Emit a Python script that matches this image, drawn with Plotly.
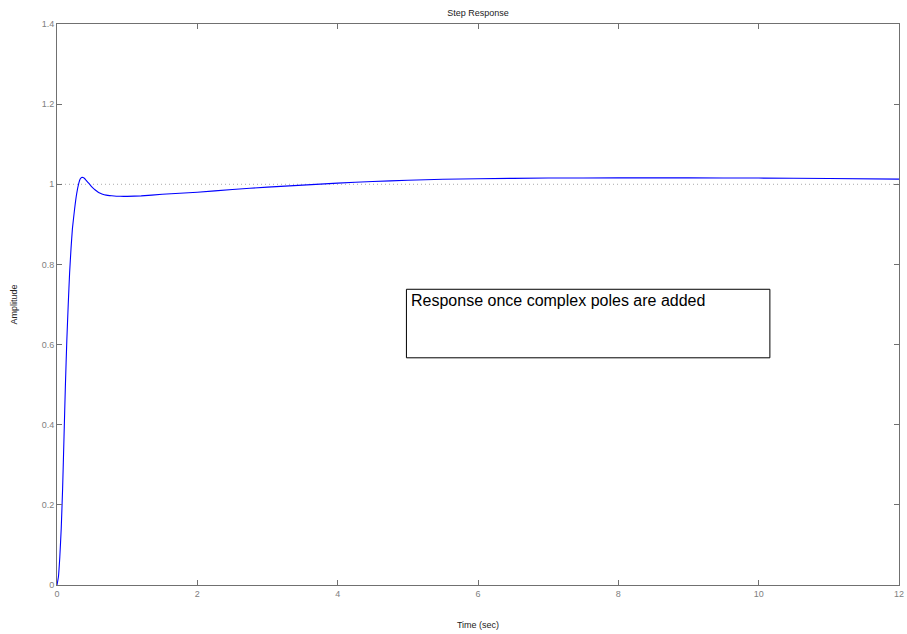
import plotly.graph_objects as go

# Step response samples
time_s = [0, 0.02, 0.04, 0.06, 0.08, 0.10, 0.12, 0.14, 0.16, 0.18, 0.20, 0.22, 0.25,
          0.28, 0.31, 0.33, 0.35, 0.37, 0.39, 0.41, 0.44, 0.47, 0.50, 0.53, 0.56, 0.60,
          0.64, 0.70, 0.78, 0.90, 1.0, 1.2, 1.5, 2.0, 2.5, 3.0, 3.5, 4.0, 4.5, 5.0, 5.5,
          6.0, 7.0, 8.0, 9.0, 10.0, 11.0, 12.0]
amplitude = [0, 0.02, 0.07, 0.14, 0.24, 0.37, 0.50, 0.61, 0.70, 0.78, 0.84, 0.89, 0.937,
             0.976, 1.002, 1.013, 1.017, 1.017, 1.015, 1.011, 1.005, 0.999, 0.993, 0.988,
             0.984, 0.979, 0.976, 0.973, 0.9715, 0.970, 0.9698, 0.971, 0.975, 0.980,
             0.987, 0.993, 0.998, 1.003, 1.007, 1.010, 1.0125, 1.014, 1.0155, 1.016,
             1.016, 1.0155, 1.0145, 1.013]

final_value = 1.0
x_ticks = [0, 2, 4, 6, 8, 10, 12]
y_ticks = [0, 0.2, 0.4, 0.6, 0.8, 1.0, 1.2, 1.4]
note_text = "Response once complex poles are added"
note_box = dict(x0=4.98, x1=10.16, y0=0.567, y1=0.738)

fig = go.Figure()
fig.add_trace(go.Scatter(x=[0, 12], y=[final_value, final_value], mode="lines",
                         line=dict(color="#aaaaaa", width=1, dash="1px,3px"),
                         hoverinfo="skip", showlegend=False))
fig.add_trace(go.Scatter(x=time_s, y=amplitude, mode="lines",
                         line=dict(color="#0000ff", width=1.1, shape="spline", smoothing=0.3),
                         showlegend=False))

fig.add_shape(type="rect", xref="x", yref="y", **note_box,
              line=dict(color="black", width=1), fillcolor="white", layer="above")
fig.add_annotation(x=note_box["x0"], y=note_box["y1"], xref="x", yref="y",
                   text=note_text, showarrow=False, xanchor="left", yanchor="top",
                   xshift=3, yshift=-1,
                   font=dict(family="Liberation Sans, Arial", size=16, color="black"))

axis_common = dict(showgrid=False, zeroline=False, showline=True, linecolor="#707070",
                   linewidth=1, mirror="ticks", ticks="inside", ticklen=5,
                   tickcolor="#707070", tickfont=dict(size=9, color="#808080"),
                   automargin=False)

fig.update_layout(
    width=907, height=634,
    margin=dict(l=57, r=8, t=24, b=49, autoexpand=False),
    paper_bgcolor="white", plot_bgcolor="white",
    font=dict(family="Liberation Sans, Arial", size=9, color="#222222"),
    title=dict(text="Step Response", xref="paper", x=0.5, xanchor="center",
               y=0.985, yanchor="top", font=dict(size=9, color="#222222")),
    xaxis=dict(range=[0, 12], tickvals=x_ticks,
               title=dict(text="Time (sec)", font=dict(size=9), standoff=23), **axis_common),
    yaxis=dict(range=[0, 1.4], tickvals=y_ticks,
               title=dict(text="Amplitude", font=dict(size=9), standoff=22), **axis_common),
)

fig.write_html("out.html")
